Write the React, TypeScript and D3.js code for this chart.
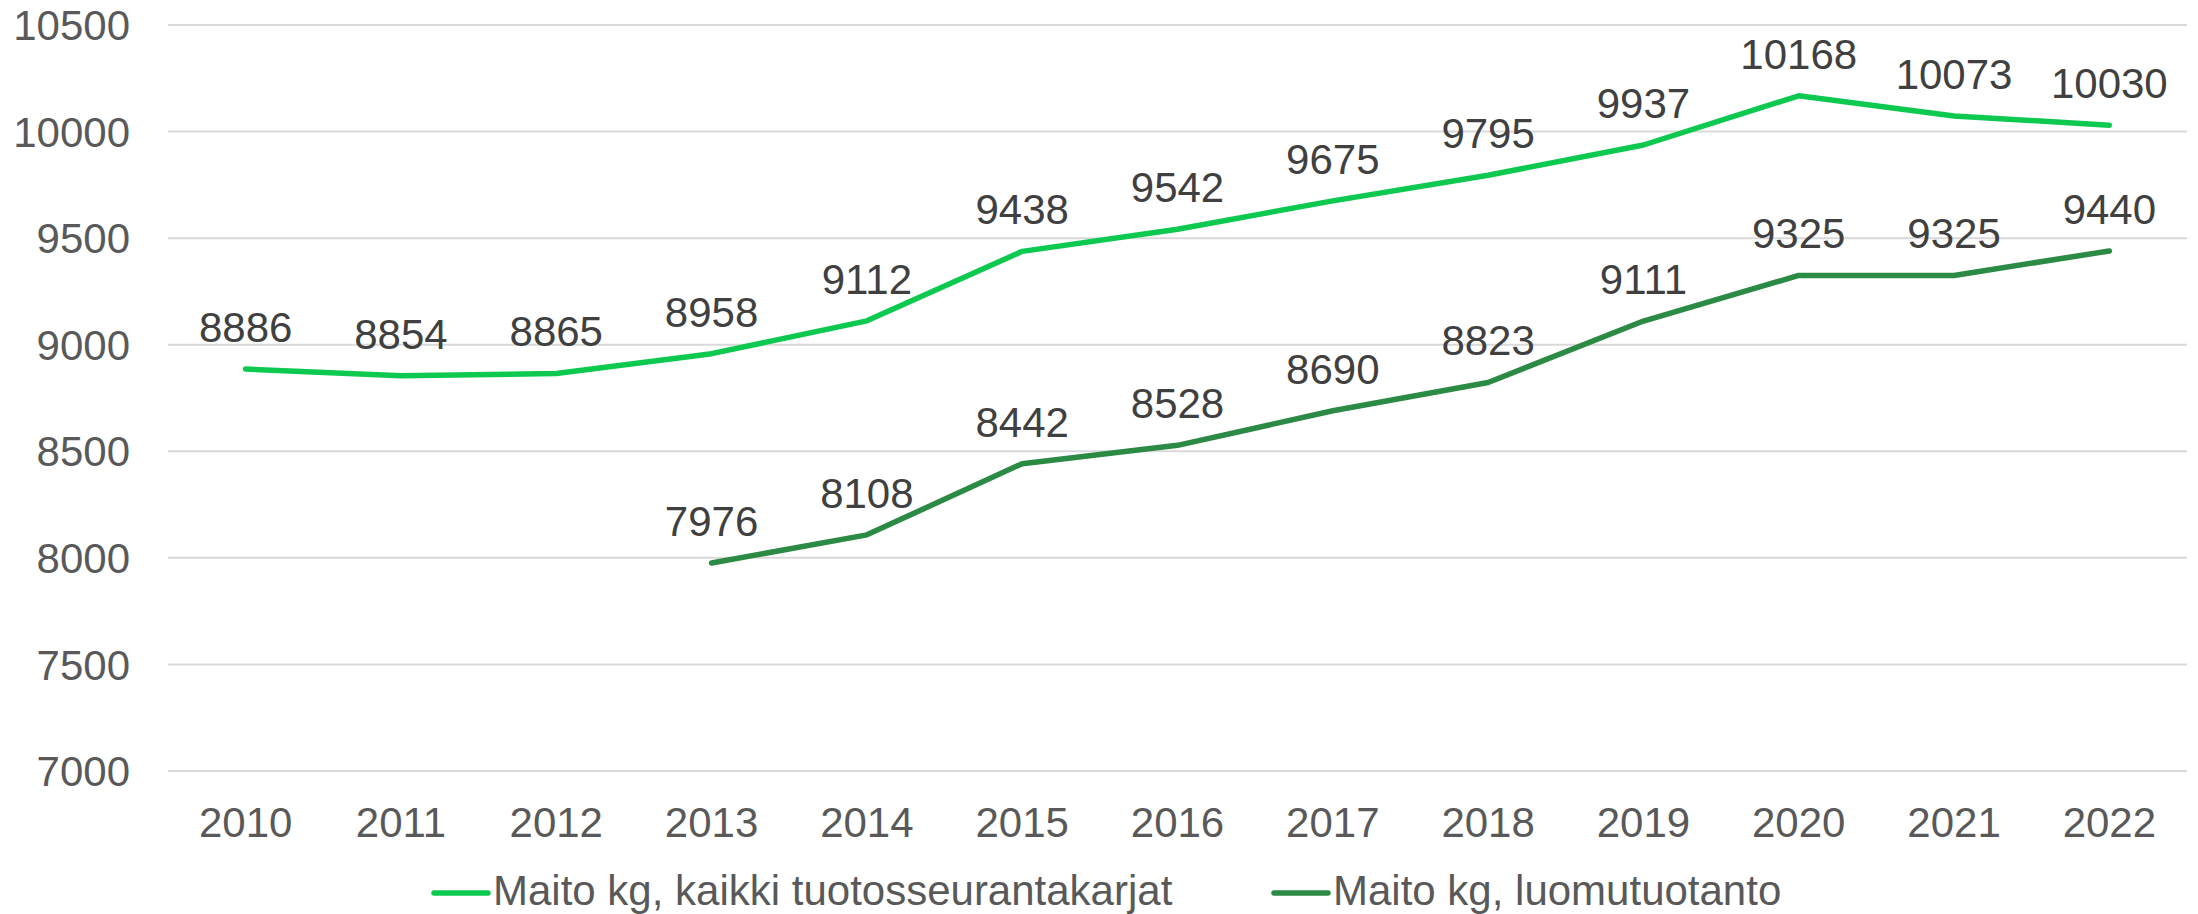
import * as d3 from "d3";

const years = ["2010", "2011", "2012", "2013", "2014", "2015", "2016", "2017", "2018", "2019", "2020", "2021", "2022"];
const kaikki = [8886, 8854, 8865, 8958, 9112, 9438, 9542, 9675, 9795, 9937, 10168, 10073, 10030];
const luomuYears = ["2013", "2014", "2015", "2016", "2017", "2018", "2019", "2020", "2021", "2022"];
const luomu = [7976, 8108, 8442, 8528, 8690, 8823, 9111, 9325, 9325, 9440];
const yTicks = [7000, 7500, 8000, 8500, 9000, 9500, 10000, 10500];

const seriesNames = ["Maito kg, kaikki tuotosseurantakarjat", "Maito kg, luomutuotanto"];
const colors = ["#0dc94f", "#2b8a44"];

const width = 2198;
const height = 914;
const margin = { top: 25, right: 11, bottom: 143, left: 168 };
const font = "'Liberation Sans', Arial, sans-serif";

export default function App() {
  const x = d3.scaleBand(years, [margin.left, width - margin.right]);
  const y = d3.scaleLinear([7000, 10500], [height - margin.bottom, margin.top]);
  const cx = (yr: string) => x(yr)! + x.bandwidth() / 2;

  const line = d3.line<[string, number]>()
    .x(d => cx(d[0]))
    .y(d => y(d[1]));

  const s1: [string, number][] = years.map((yr, i) => [yr, kaikki[i]]);
  const s2: [string, number][] = luomuYears.map((yr, i) => [yr, luomu[i]]);
  const series = [s1, s2];

  // legend positions
  const legendX = [434, 1274];

  return (
    <svg width={width} height={height} style={{ position: "absolute", left: 0, top: 0, background: "#fff" }} fontFamily={font}>
      {yTicks.map(t => (
        <g key={t}>
          <line x1={margin.left} x2={width - margin.right} y1={y(t)} y2={y(t)} stroke="#d9d9d9" strokeWidth={2} />
          <text x={130} y={y(t)} dy="0.36em" textAnchor="end" fontSize={42} fill="#595959">{t}</text>
        </g>
      ))}
      {years.map(yr => (
        <text key={yr} x={cx(yr)} y={837} textAnchor="middle" fontSize={42} fill="#595959">{yr}</text>
      ))}
      {series.map((s, i) => (
        <path key={i} d={line(s)!} fill="none" stroke={colors[i]} strokeWidth={5.5} strokeLinejoin="round" strokeLinecap="round" />
      ))}
      {series.map((s, i) => s.map(d => (
        <text key={i + d[0]} x={cx(d[0])} y={y(d[1]) - 27} textAnchor="middle" fontSize={42} fill="#404040">{d[1]}</text>
      )))}
      {seriesNames.map((n, i) => (
        <g key={n}>
          <line x1={legendX[i]} x2={legendX[i] + 54} y1={893} y2={893} stroke={colors[i]} strokeWidth={5.5} strokeLinecap="round" />
          <text x={legendX[i] + 59} y={905} fontSize={42} fill="#595959">{n}</text>
        </g>
      ))}
    </svg>
  );
}
